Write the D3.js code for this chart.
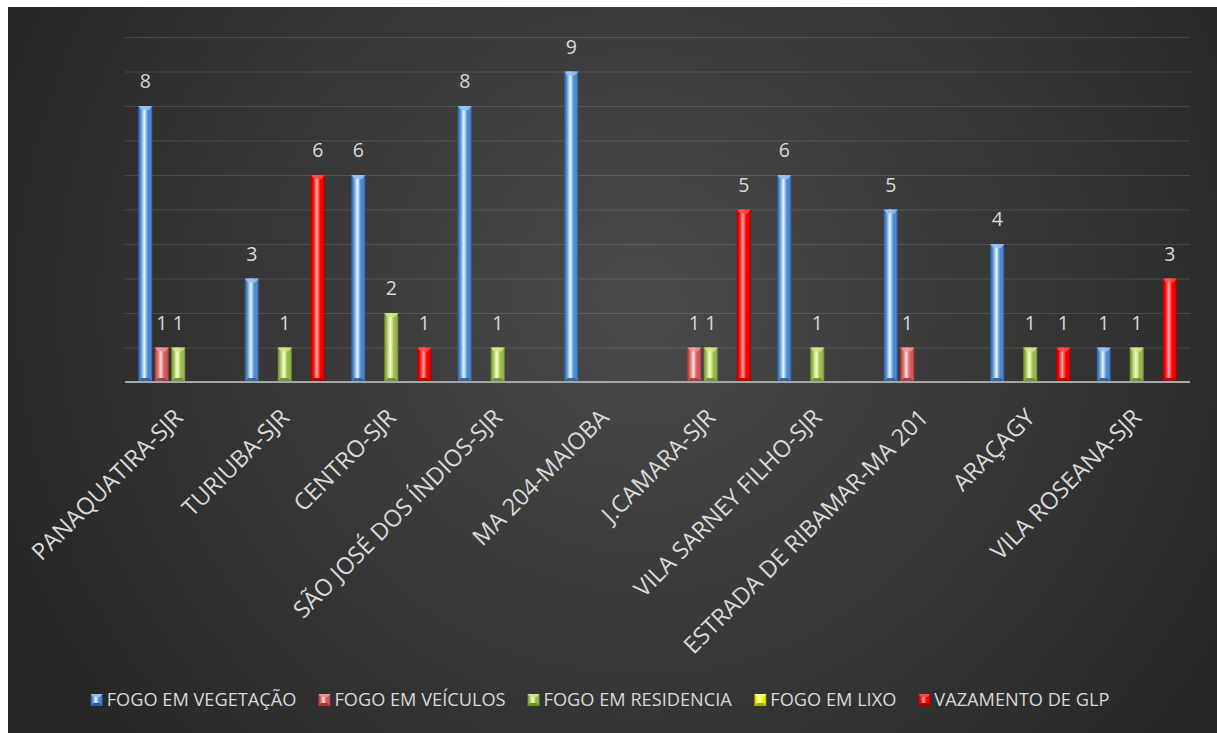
<!DOCTYPE html>
<html>
<head>
<meta charset="utf-8">
<script src="https://cdn.jsdelivr.net/npm/d3@7/dist/d3.min.js"></script>
<style>
  html, body { margin: 0; padding: 0; background: #ffffff; }
  svg { display: block; }
  text { font-family: "Open Sans", "Noto Sans", sans-serif; }
</style>
</head>
<body>
<svg id="chart" width="1217" height="733"></svg>
<script>
// Ocorrências por bairro e tipo
const categories = [
  "PANAQUATIRA-SJR", "TURIUBA-SJR", "CENTRO-SJR", "SÃO JOSÉ DOS ÍNDIOS-SJR",
  "MA 204-MAIOBA", "J.CAMARA-SJR", "VILA SARNEY FILHO-SJR",
  "ESTRADA DE RIBAMAR-MA 201", "ARAÇAGY", "VILA ROSEANA-SJR"
];
const seriesNames = ["FOGO EM VEGETAÇÃO", "FOGO EM VEÍCULOS", "FOGO EM RESIDENCIA", "FOGO EM LIXO", "VAZAMENTO DE GLP"];
const fogoVegetacao  = [8, 3, 6, 8, 9, 0, 6, 5, 4, 1];
const fogoVeiculos   = [1, 0, 0, 0, 0, 1, 0, 1, 0, 0];
const fogoResidencia = [1, 1, 2, 1, 0, 1, 1, 0, 1, 1];
const fogoLixo       = [0, 0, 0, 0, 0, 0, 0, 0, 0, 0];
const vazamentoGLP   = [0, 6, 1, 0, 0, 5, 0, 0, 1, 3];
const yTicks = [1, 2, 3, 4, 5, 6, 7, 8, 9, 10];

const seriesValues = [fogoVegetacao, fogoVeiculos, fogoResidencia, fogoLixo, vazamentoGLP];

// bevel shades per series: dark edge, base, light, highlight
const palettes = [
  { dark: "#2d5c9a", base: "#4f88cc", light: "#94c2ef", hi: "#eaf6ff" },
  { dark: "#a03838", base: "#d45a5a", light: "#ee9494", hi: "#ffdede" },
  { dark: "#6c8b2c", base: "#98b956", light: "#cfe48a", hi: "#f6ffc6" },
  { dark: "#a8a800", base: "#eeee00", light: "#ffff66", hi: "#ffffd0" },
  { dark: "#a80000", base: "#f50000", light: "#ff4a4a", hi: "#ffa8a8" }
];

const svg = d3.select("#chart");
const W = 1217, H = 733;
const defs = svg.append("defs");

// background
const bg = defs.append("radialGradient").attr("id", "bg")
  .attr("gradientUnits", "userSpaceOnUse")
  .attr("cx", 640).attr("cy", 300).attr("r", 720);
bg.append("stop").attr("offset", 0).attr("stop-color", "#4a4a4a");
bg.append("stop").attr("offset", 1).attr("stop-color", "#252525");
svg.append("rect").attr("x", 8).attr("y", 7).attr("width", W - 8).attr("height", H - 7).attr("fill", "url(#bg)");

palettes.forEach((p, i) => {
  const g = defs.append("linearGradient").attr("id", "bar" + i)
    .attr("x1", 0).attr("x2", 1).attr("y1", 0).attr("y2", 0);
  [[0, p.dark], [0.16, p.base], [0.3, p.light], [0.44, p.hi], [0.56, p.light], [0.7, p.base], [0.86, p.base], [1, p.dark]]
    .forEach(([o, c]) => g.append("stop").attr("offset", o).attr("stop-color", c));
});

const plot = { left: 125, right: 1190, top: 37, bottom: 382 };

const y = d3.scaleLinear().domain([0, 10]).range([plot.bottom, plot.top]);
const x0 = d3.scaleBand().domain(categories).range([plot.left, plot.right]).padding(0);
const x1 = d3.scaleBand().domain(seriesNames).range([0, x0.bandwidth()])
  .paddingInner(0.15).paddingOuter(0.8);

// gridlines
const grid = d3.axisLeft(y).tickValues(yTicks).tickSize(-(plot.right - plot.left)).tickFormat("");
svg.append("g").attr("transform", `translate(${plot.left},0)`).call(grid)
  .call(g => g.select(".domain").remove())
  .call(g => g.selectAll(".tick line").attr("stroke", "#ffffff").attr("stroke-opacity", 0.13));

// bars
const rows = [];
categories.forEach((c, ci) => seriesNames.forEach((s, si) => {
  const v = seriesValues[si][ci];
  if (v > 0) rows.push({ c, s, si, v });
}));

const bw = x1.bandwidth();
const barG = svg.append("g");
const bars = barG.selectAll("g.bar").data(rows).join("g").attr("class", "bar")
  .attr("transform", d => `translate(${x0(d.c) + x1(d.s)},0)`);

bars.append("rect")
  .attr("x", 0).attr("y", d => y(d.v))
  .attr("width", bw).attr("height", d => y(0) - y(d.v))
  .attr("fill", d => `url(#bar${d.si})`);
// top bevel
bars.append("path")
  .attr("d", d => { const t = y(d.v); return `M0,${t}L${bw},${t}L${bw - 3.5},${t + 4}L3.5,${t + 4}Z`; })
  .attr("fill", d => palettes[d.si].light).attr("opacity", 0.9);
// bottom bevel
bars.append("path")
  .attr("d", () => { const b = y(0); return `M3.5,${b - 4}L${bw - 3.5},${b - 4}L${bw},${b}L0,${b}Z`; })
  .attr("fill", d => palettes[d.si].dark).attr("opacity", 0.9);

// value labels
barG.selectAll("text.val").data(rows).join("text").attr("class", "val")
  .attr("x", d => x0(d.c) + x1(d.s) + bw / 2)
  .attr("y", d => y(d.v) - 18)
  .attr("text-anchor", "middle")
  .attr("font-size", 19.5)
  .attr("fill", "#d9d9d9")
  .text(d => d.v);

// baseline
svg.append("line")
  .attr("x1", plot.left).attr("x2", plot.right)
  .attr("y1", y(0)).attr("y2", y(0))
  .attr("stroke", "#a6a6a6").attr("stroke-width", 2);

// category axis labels
const xAxis = d3.axisBottom(x0).tickSize(0).tickPadding(0);
svg.append("g").attr("transform", `translate(0,${plot.bottom})`).call(xAxis)
  .call(g => g.select(".domain").remove())
  .call(g => g.selectAll(".tick text")
    .attr("font-size", 23.5)
    .attr("fill", "#d9d9d9")
    .attr("text-anchor", "end")
    .attr("dy", 0)
    .attr("y", 0)
    .attr("transform", "translate(6,37) rotate(-45)"));

// legend
const legend = svg.append("g").attr("transform", "translate(0,700)");
const items = legend.selectAll("g").data(seriesNames).join("g");
items.append("rect").attr("x", 0).attr("y", -6).attr("width", 12).attr("height", 12)
  .attr("fill", (d, i) => `url(#bar${i})`);
items.append("path")
  .attr("d", "M0,-6L12,-6L9,-3L3,-3Z").attr("fill", (d, i) => palettes[i].light);
items.append("path")
  .attr("d", "M3,3L9,3L12,6L0,6Z").attr("fill", (d, i) => palettes[i].dark);
items.append("text").attr("x", 16).attr("y", 0).attr("dy", "0.35em")
  .attr("font-size", 18.2).attr("fill", "#d9d9d9").text(d => d);

let xpos = 0;
const offsets = [];
items.each(function () {
  offsets.push(xpos);
  xpos += this.getBBox().width + 22;
});
const total = xpos - 22;
const start = 600 - total / 2;
items.attr("transform", (d, i) => `translate(${start + offsets[i]},0)`);
</script>
</body>
</html>
